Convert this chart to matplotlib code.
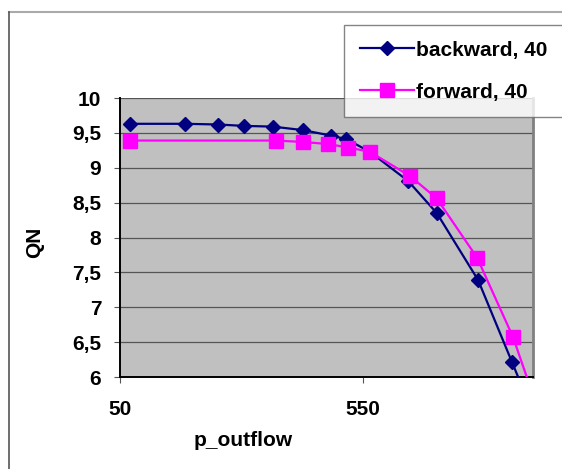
import matplotlib
matplotlib.use("Agg")
import matplotlib.pyplot as plt
from matplotlib.lines import Line2D
from matplotlib.ticker import FuncFormatter

# valeurs
x_back = [70, 184, 252, 305, 364, 426, 485, 516, 564, 643, 702, 787, 857, 900]
y_back = [9.63, 9.63, 9.62, 9.60, 9.59, 9.54, 9.46, 9.41, 9.23, 8.81, 8.35, 7.39, 6.21, 5.48]
x_forw = [70, 371, 426, 478, 520, 564, 647, 702, 785, 859, 900]
y_forw = [9.39, 9.39, 9.37, 9.34, 9.29, 9.23, 8.88, 8.56, 7.71, 6.57, 5.74]
lab_back = "backward, 40"
lab_forw = "forward, 40"
x_ticks = [50, 550]
y_ticks = [6, 6.5, 7, 7.5, 8, 8.5, 9, 9.5, 10]

plt.rcParams['font.family'] = ['Liberation Sans', 'DejaVu Sans']
plt.rcParams['font.weight'] = 'bold'

W, H = 562, 469
fig = plt.figure(figsize=(W / 100, H / 100), dpi=100)
ax = fig.add_axes([120 / W, 1 - 377 / H, (533 - 120) / W, (377 - 98) / H])
ax.set_facecolor('#C0C0C0')

ax.plot(x_back, y_back, color='#000080', lw=1.6, marker='D', ms=7,
        mec='#000080', mfc='#000080', label=lab_back, zorder=3)
ax.plot(x_forw, y_forw, color='#FF00FF', lw=1.6, marker='s', ms=10,
        mec='#FF00FF', mfc='#FF00FF', label=lab_forw, zorder=3)

ax.set_xlim(50, 900)
ax.set_ylim(6, 10)
ax.set_xticks(x_ticks)
ax.set_yticks(y_ticks)
ax.yaxis.set_major_formatter(FuncFormatter(lambda v, p: ('%g' % v).replace('.', ',')))
ax.grid(axis='y', color='#555555', lw=0.9)
ax.set_axisbelow(True)
ax.tick_params(axis='y', length=4.5, width=0.8, pad=9, labelsize=15, color='#555555')
ax.tick_params(axis='x', length=4.5, width=0.8, pad=12, labelsize=15, color='#555555')

for s in ['left', 'bottom']:
    ax.spines[s].set_color('black')
    ax.spines[s].set_linewidth(1.4)
ax.spines['top'].set_visible(False)
ax.spines['right'].set_color('#808080')
ax.spines['right'].set_linewidth(2)

fig.text(35 / W, 1 - 242 / H, 'QN', rotation=90, ha='center', va='center',
         fontsize=15, fontweight='bold')
fig.text(243 / W, 1 - 440 / H, 'p_outflow', ha='center', va='center',
         fontsize=15, fontweight='bold')

# bordure de la zone du graphique
fig.add_artist(Line2D([9 / W, 1], [1 - 12 / H, 1 - 12 / H], color='#AAAAAA', lw=1.5))
fig.add_artist(Line2D([9 / W, 9 / W], [0, 1 - 12 / H], color='#555555', lw=1.2))

leg = fig.legend(loc='upper left', bbox_to_anchor=(344 / W, 1 - 25 / H),
                 fontsize=15, handlelength=2.6, labelspacing=1.1,
                 borderpad=0.75, handletextpad=0.1, frameon=True,
                 fancybox=False, borderaxespad=0)
leg.get_frame().set_edgecolor('#666666')
leg.get_frame().set_linewidth(1.0)
leg.set_zorder(10)

plt.savefig('out.png', dpi=100)
